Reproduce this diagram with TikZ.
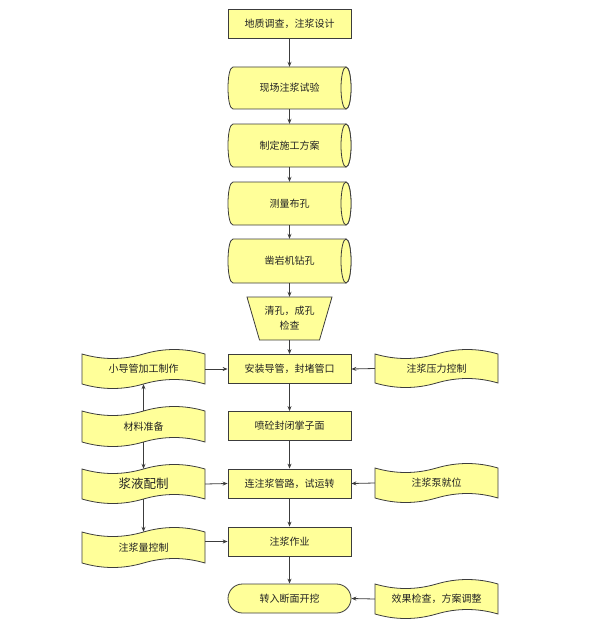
\documentclass[tikz,border=0pt]{standalone}
\usepackage{fontspec}
\newfontfamily\cjkfont{Noto Sans CJK SC}
\usetikzlibrary{arrows.meta}
\definecolor{boxfill}{RGB}{255,255,153}
\definecolor{edgecol}{RGB}{60,60,60}
\definecolor{ink}{RGB}{35,35,35}
% wavy (punched tape) shape: name, L, T, R, B, text
\newcommand\wavyshape[7][]{%
  \pgfmathsetmacro\wL{#3}\pgfmathsetmacro\wT{#4}%
  \pgfmathsetmacro\wR{#5}\pgfmathsetmacro\wB{#6}%
  \pgfmathsetmacro\wW{\wR-\wL}\pgfmathsetmacro\wH{\wB-\wT}%
  \pgfmathsetmacro\wXa{\wL+\wW/6}\pgfmathsetmacro\wXb{\wL+\wW/3}%
  \pgfmathsetmacro\wXm{\wL+\wW/2}%
  \pgfmathsetmacro\wXc{\wL+2*\wW/3}\pgfmathsetmacro\wXd{\wL+5*\wW/6}%
  \path[shapeline] (\wL,\wT) .. controls (\wXa,\wT+6) and (\wXb,\wT+6) .. (\wXm,\wT)
     .. controls (\wXc,\wT-6) and (\wXd,\wT-6) .. (\wR,\wT) -- (\wR,\wB)
     .. controls (\wXd,\wB-6) and (\wXc,\wB-6) .. (\wXm,\wB)
     .. controls (\wXb,\wB+6) and (\wXa,\wB+6) .. (\wL,\wB) -- cycle;
  \node[txt,minimum width=\wW,minimum height=\wH,#1] (#2) at (\wXm,{(\wT+\wB)/2}) {#7};
}
% horizontal cylinder: name, L, T, R, B, text
\newcommand\cylshape[6]{%
  \pgfmathsetmacro\cL{#2}\pgfmathsetmacro\cT{#3}%
  \pgfmathsetmacro\cR{#4}\pgfmathsetmacro\cB{#5}%
  \pgfmathsetmacro\cW{\cR-\cL}\pgfmathsetmacro\cH{\cB-\cT}%
  \pgfmathsetmacro\cM{(\cT+\cB)/2}%
  \path[shapeline] (\cL+5,\cT) -- (\cR-5,\cT)
     .. controls (\cR+1.667,\cT) and (\cR+1.667,\cB) .. (\cR-5,\cB)
     -- (\cL+5,\cB)
     .. controls (\cL-1.667,\cB) and (\cL-1.667,\cT) .. (\cL+5,\cT) -- cycle;
  \path[shapeline] (\cR-5,\cM) ellipse [x radius=5, y radius=\cH/2];
  \node[txt,minimum width=\cW,minimum height=\cH] (#1) at ({(\cL+\cR)/2},\cM) {#6};
}
\begin{document}
\begin{tikzpicture}[x=1pt,y=-1pt,
  shapeline/.style={draw=edgecol, fill=boxfill, line width=0.8pt},
  txt/.style={inner sep=0pt, font=\cjkfont\fontsize{10}{15}\selectfont, text=ink, align=center},
  procbox/.style={txt, shapeline, minimum width=123pt, minimum height=29pt},
  conn/.style={draw=edgecol, line width=0.8pt, -{Stealth[length=5pt,width=4pt]}}]
\useasboundingbox (0,0) rectangle (596,623);

% main column
\node[procbox] (b1) at (289.5,23.5) {地质调查，注浆设计};
\cylshape{c1}{228}{67}{351}{109}{现场注浆试验}
\cylshape{c2}{228}{124}{351}{167}{制定施工方案}
\cylshape{c3}{228}{182}{351}{225}{测量布孔}
\cylshape{c4}{228}{239}{351}{283}{凿岩机钻孔}
\path[shapeline] (247,297) -- (332,297) -- (319.5,340) -- (259.5,340) -- cycle;
\node[txt,minimum width=85,minimum height=43] (t1) at (289.5,318.5) {清孔，成孔\\检查};
\node[procbox] (b2) at (289.5,369) {安装导管，封堵管口};
\node[procbox] (b3) at (289.5,426) {喷砼封闭掌子面};
\node[procbox] (b4) at (289.5,483.5) {连注浆管路，试运转};
\node[procbox] (b5) at (289.5,541.5) {注浆作业};
\node[procbox, rounded corners=14.5pt] (b6) at (289.5,598.5) {转入断面开挖};

% left column
\wavyshape{x1}{82}{354}{205}{384}{小导管加工制作}
\wavyshape{x2}{82}{411}{205}{442}{材料准备}
\wavyshape[font=\cjkfont\fontsize{12.5}{15}\selectfont]{x3}{82}{469}{205}{499}{浆液配制}
\wavyshape{x4}{82}{532}{205}{563}{注浆量控制}

% right column
\wavyshape{y1}{375}{354}{498}{383}{注浆压力控制}
\wavyshape{y2}{375}{468}{498}{498}{注浆泵就位}
\wavyshape{y3}{375}{584}{498}{614}{效果检查，方案调整}

% main flow
\draw[conn] (b1.south) -- (c1.north);
\draw[conn] (c1.south) -- (c2.north);
\draw[conn] (c2.south) -- (c3.north);
\draw[conn] (c3.south) -- (c4.north);
\draw[conn] (c4.south) -- (t1.north);
\draw[conn] (t1.south) -- (b2.north);
\draw[conn] (b2.south) -- (b3.north);
\draw[conn] (b3.south) -- (b4.north);
\draw[conn] (b4.south) -- (b5.north);
\draw[conn] (b5.south) -- (b6.north);

% left connections
\draw[conn] (x2.north) -- (x1.south);
\draw[conn] (x2.south) -- (x3.north);
\draw[conn] (x3.south) -- (x4.north);
\draw[conn] (x1.east) -- (b2.west);
\draw[conn] (x3.east) -- (b4.west);
\draw[conn] (x4.east |- b5.west) -- (b5.west);

% right connections
\draw[conn] (y1.west) -- (b2.east);
\draw[conn] (y2.west) -- (b4.east);
\draw[conn] (y3.west) -- (b6.east);
\end{tikzpicture}
\end{document}
